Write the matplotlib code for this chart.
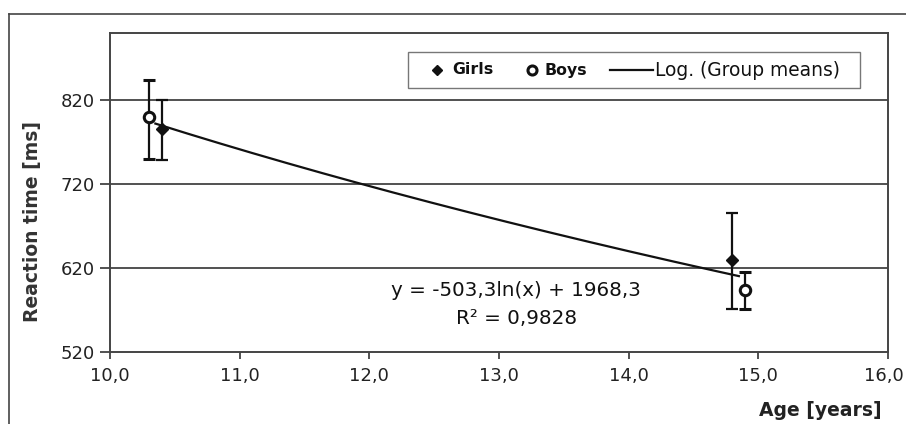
import numpy as np
import matplotlib
matplotlib.use("Agg")
import matplotlib.pyplot as plt
from matplotlib.lines import Line2D
from matplotlib.patches import Rectangle
from matplotlib.transforms import ScaledTranslation

# ---- data ----
girls_age = [10.4, 14.8]
girls_rt = [785.5, 629.0]
girls_err_low = [37.0, 58.0]
girls_err_high = [34.5, 57.0]

boys_age = [10.3, 14.9]
boys_rt = [799.5, 594.0]
boys_err_low = [49.5, 23.0]
boys_err_high = [44.0, 21.0]

fit_a = -503.3
fit_b = 1968.3
fit_x_range = [10.35, 14.85]

x_ticks = [10, 11, 12, 13, 14, 15, 16]
x_tick_labels = ["10,0", "11,0", "12,0", "13,0", "14,0", "15,0", "16,0"]
y_ticks = [520, 620, 720, 820]

legend_labels = ["Girls", "Boys", "Log. (Group means)"]
eq_text = "y = -503,3ln(x) + 1968,3"
r2_text = "R² = 0,9828"

plt.rcParams['font.family'] = ['DejaVu Sans']

W, H = 906, 424
fig = plt.figure(figsize=(W/100, H/100), dpi=100)
ax = fig.add_axes([110/W, 1-352/H, (888-110)/W, (352-33)/H])

def fx(px):
    return px / W

def fy(py):
    return 1 - py / H

# outer frame (top & left only visible)
fig.add_artist(Line2D([fx(9), 1.0], [fy(14), fy(14)], color='#444444', lw=1.2, transform=fig.transFigure))
fig.add_artist(Line2D([fx(9), fx(9)], [0, fy(14)], color='#444444', lw=1.2, transform=fig.transFigure))

for y in y_ticks[1:]:
    ax.axhline(y, color='#222222', lw=1.1, zorder=1)

xf = np.linspace(fit_x_range[0], fit_x_range[1], 200)
yf = fit_a * np.log(xf) + fit_b
ax.plot(xf, yf, color='#111111', lw=1.6, zorder=3)

ax.errorbar(girls_age, girls_rt, yerr=[girls_err_low, girls_err_high], fmt='D',
            color='#111111', ms=6, capsize=4, elinewidth=1.6, capthick=1.6, zorder=4)
ax.errorbar(boys_age, boys_rt, yerr=[boys_err_low, boys_err_high], fmt='o',
            color='#111111', mfc='white', mec='#111111', mew=2.2, ms=7.5, capsize=4,
            elinewidth=1.6, capthick=1.6, zorder=4)

ax.set_xlim(10, 16)
ax.set_ylim(520, 900)
ax.set_xticks(x_ticks)
ax.set_xticklabels(x_tick_labels)
ax.set_yticks(y_ticks)
ax.tick_params(axis='both', direction='out', width=1.2, color='#333333',
               labelsize=13, labelcolor='#222222')
ax.tick_params(axis='x', length=5, pad=6)
ax.tick_params(axis='y', length=7.5, pad=3.5)
for s in ax.spines.values():
    s.set_color('#444444')
    s.set_linewidth(1.4)

# keep the last tick label inside the canvas
last = ax.get_xticklabels()[-1]
last.set_transform(last.get_transform() + ScaledTranslation(-4/100, 0, fig.dpi_scale_trans))

fig.text(fx(33), fy(222), "Reaction time [ms]", fontsize=13.5, fontweight='bold', color='#333333',
         ha='center', va='center', rotation=90)
fig.text(fx(882), fy(410), "Age [years]", fontsize=13.5, fontweight='bold', color='#222222',
         ha='right', va='center')

fig.text(fx(516), fy(291), eq_text, fontsize=14.3, color='#111111', ha='center', va='center')
fig.text(fx(517), fy(318), r2_text, fontsize=14.3, color='#111111', ha='center', va='center')

# manual legend
fig.add_artist(Rectangle((fx(408), fy(88)), fx(860) - fx(408), fy(52) - fy(88),
                         transform=fig.transFigure, facecolor='white', edgecolor='#777777', lw=1.0))
ly = fy(70)
fig.add_artist(Line2D([fx(437)], [ly], marker='D', color='#111111', ms=5, ls='none',
                      transform=fig.transFigure))
fig.text(fx(452), ly, legend_labels[0], fontsize=11.3, fontweight='bold', color='#111111',
         ha='left', va='center')
fig.add_artist(Line2D([fx(532)], [ly], marker='o', color='#111111', mfc='white', mew=2.2, ms=6.5,
                      ls='none', transform=fig.transFigure))
fig.text(fx(545), ly, legend_labels[1], fontsize=11.3, fontweight='bold', color='#111111',
         ha='left', va='center')
fig.add_artist(Line2D([fx(610), fx(653)], [ly, ly], color='#111111', lw=1.6,
                      transform=fig.transFigure))
fig.text(fx(655), ly, legend_labels[2], fontsize=13.4, color='#111111', ha='left', va='center')

fig.savefig("out.png", dpi=100)
